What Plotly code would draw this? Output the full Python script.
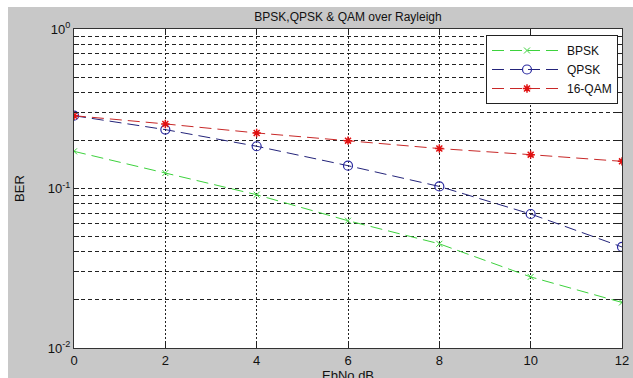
import plotly.graph_objects as go

ebno = [0, 2, 4, 6, 8, 10, 12]
ber_bpsk = [0.171, 0.125, 0.0914, 0.0628, 0.045, 0.0279, 0.0193]
ber_qpsk = [0.286, 0.234, 0.184, 0.139, 0.103, 0.0692, 0.043]
ber_qam16 = [0.286, 0.254, 0.223, 0.1995, 0.178, 0.163, 0.148]

W, H = 633, 378
L, R, T, B = 74, 11, 29, 30
FONT = "Liberation Sans, Arial, sans-serif"
PW, PH = W - L - R, H - T - B

fig = go.Figure()
fig.add_trace(go.Scatter(x=ebno, y=ber_bpsk, name="BPSK", mode="lines+markers",
                         line=dict(color="#3dd23d", width=1, dash="12px,6px"),
                         marker=dict(symbol="x-thin-open", size=6, color="#3dd23d",
                                     line=dict(width=1, color="#3dd23d"))))
fig.add_trace(go.Scatter(x=ebno, y=ber_qpsk, name="QPSK", mode="lines+markers",
                         line=dict(color="#24247a", width=1, dash="12px,6px"),
                         marker=dict(symbol="circle-open", size=9, color="#2a2aa0",
                                     line=dict(width=1.2, color="#2a2aa0"))))
fig.add_trace(go.Scatter(x=ebno, y=ber_qam16, name="16-QAM", mode="lines+markers",
                         line=dict(color="#c82828", width=1, dash="12px,6px"),
                         marker=dict(symbol="asterisk-open", size=7, color="#e01010",
                                     line=dict(width=1.5, color="#e01010"))))

ytick_vals = []
ytick_text = []
for dec in [0.01, 0.1]:
    for m in range(1, 10):
        ytick_vals.append(m * dec)
        if m == 1:
            ytick_text.append("10<sup>-2</sup>" if dec == 0.01 else "10<sup>-1</sup>")
        else:
            ytick_text.append("")
ytick_vals.append(1.0)
ytick_text.append("10<sup>0</sup>")

fig.update_layout(
    width=W, height=H,
    margin=dict(l=L, r=R, t=T, b=B, autoexpand=False),
    paper_bgcolor="#c8c8c8",
    plot_bgcolor="white",
    font=dict(family=FONT, size=13, color="#111"),
    title=dict(text="BPSK,QPSK & QAM over Rayleigh", x=(L + (W - R)) / 2 / W, xanchor="center",
               y=1 - 17 / H, yanchor="middle", font=dict(size=12, color="#111")),
    showlegend=True,
    legend=dict(x=(618 - L) / PW, xanchor="right", y=1 - (35 - T) / PH, yanchor="top",
                bgcolor="white", bordercolor="#222", borderwidth=1,
                font=dict(size=12, color="#111"), tracegroupgap=0,
                itemwidth=70),
    annotations=[
        dict(text="EbNo dB", xref="paper", yref="paper", x=0.5, y=-(366 - (T + PH)) / PH,
             xanchor="center", yanchor="top", showarrow=False,
             font=dict(size=13, color="#111")),
    ],
    shapes=[
        dict(type="rect", xref="paper", yref="paper", layer="below",
             x0=-L / PW, x1=(8 - L) / PW, y0=-2, y1=2,
             fillcolor="white", line=dict(width=0)),
        dict(type="rect", xref="paper", yref="paper", layer="below",
             x0=-1, x1=2, y0=1 + (T - 7) / PH, y1=2,
             fillcolor="white", line=dict(width=0)),
    ],
)

fig.update_xaxes(range=[0, 12], tickvals=ebno, ticks="inside", ticklen=5, tickcolor="#222",
                 showline=True, linecolor="#333", linewidth=1, mirror="ticks",
                 showgrid=True, gridcolor="#222", griddash="2px,2px", gridwidth=1,
                 zeroline=False, automargin=False, ticklabelstandoff=0,
                 tickfont=dict(size=13))
fig.update_yaxes(type="log", range=[-2, 0], tickvals=ytick_vals, ticktext=ytick_text,
                 ticks="inside", ticklen=5, tickcolor="#222",
                 showline=True, linecolor="#333", linewidth=1, mirror="ticks",
                 showgrid=True, gridcolor="#222", griddash="4px,3px", gridwidth=1,
                 zeroline=False, automargin=False,
                 title=dict(text="BER", standoff=20, font=dict(size=13)),
                 tickfont=dict(size=13))

fig.write_html("out.html")
